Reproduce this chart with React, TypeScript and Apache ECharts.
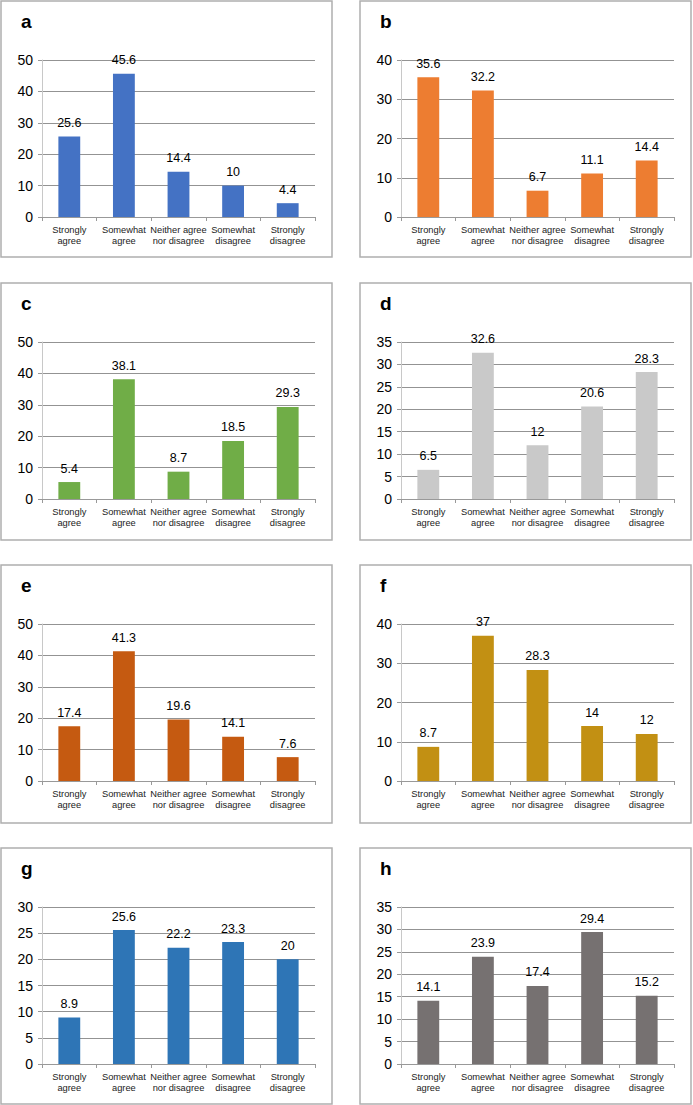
import React, { useEffect, useRef } from "react";
import * as echarts from "echarts";

const categories = [
  "Strongly\nagree",
  "Somewhat\nagree",
  "Neither agree\nnor disagree",
  "Somewhat\ndisagree",
  "Strongly\ndisagree",
];

const panelLetters = ["a", "b", "c", "d", "e", "f", "g", "h"];

const valuesA = [25.6, 45.6, 14.4, 10, 4.4];
const valuesB = [35.6, 32.2, 6.7, 11.1, 14.4];
const valuesC = [5.4, 38.1, 8.7, 18.5, 29.3];
const valuesD = [6.5, 32.6, 12, 20.6, 28.3];
const valuesE = [17.4, 41.3, 19.6, 14.1, 7.6];
const valuesF = [8.7, 37, 28.3, 14, 12];
const valuesG = [8.9, 25.6, 22.2, 23.3, 20];
const valuesH = [14.1, 23.9, 17.4, 29.4, 15.2];

const allValues = [valuesA, valuesB, valuesC, valuesD, valuesE, valuesF, valuesG, valuesH];

const axisMax = [50, 40, 50, 35, 50, 40, 30, 35];
const axisInterval = [10, 10, 10, 5, 10, 10, 5, 5];

const colors = ["#4472C4", "#ED7D31", "#70AD47", "#C9C9C9", "#C55A11", "#C29013", "#2E75B6", "#767171"];

const colLeft = [1, 360];
const colRight = [332, 691];
const rowTop = [1, 283, 565, 848];
const rowBottom = [257, 540, 823, 1104];

const FONT = "'Liberation Sans', Arial, Helvetica, sans-serif";

export default function App() {
  const ref = useRef<HTMLDivElement>(null);
  useEffect(() => {
    if (!ref.current) return;
    const chart = echarts.init(ref.current, undefined, { renderer: "svg" });
    const grids: any[] = [];
    const xAxes: any[] = [];
    const yAxes: any[] = [];
    const series: any[] = [];
    const graphics: any[] = [];
    allValues.forEach((vals, i) => {
      const col = i % 2;
      const row = Math.floor(i / 2);
      const bl = colLeft[col];
      const br = colRight[col];
      const bt = rowTop[row];
      const bb = rowBottom[row];
      graphics.push({
        type: "rect",
        shape: { x: bl, y: bt, width: br - bl, height: bb - bt },
        style: { fill: "none", stroke: "#AFAFAF", lineWidth: 1.5 },
        silent: true,
      });
      graphics.push({
        type: "text",
        x: bl + 20,
        y: bt + 20,
        style: {
          text: panelLetters[i],
          font: `bold 19px ${FONT}`,
          fill: "#000",
          verticalAlign: "middle",
        },
      });
      grids.push({
        left: bl + 41,
        width: br - 17 - (bl + 41),
        top: bt + 59,
        height: 157,
      });
      xAxes.push({
        type: "category",
        gridIndex: i,
        data: categories,
        axisLine: { show: true, lineStyle: { color: "#999", width: 1 } },
        axisTick: { show: true, length: 4, lineStyle: { color: "#999" } },
        axisLabel: {
          interval: 0,
          fontSize: 9.3,
          lineHeight: 11,
          color: "#222",
          fontFamily: FONT,
          margin: 7,
        },
        splitLine: { show: false },
      });
      yAxes.push({
        type: "value",
        gridIndex: i,
        min: 0,
        max: axisMax[i],
        interval: axisInterval[i],
        axisLine: { show: true, lineStyle: { color: "#C8C8C8", width: 1 } },
        axisTick: { show: true, length: 4, lineStyle: { color: "#999" } },
        axisLabel: { fontSize: 14, color: "#000", fontFamily: FONT, margin: 9 },
        splitLine: { show: true, lineStyle: { color: "#939393", width: 1 } },
      });
      series.push({
        type: "bar",
        xAxisIndex: i,
        yAxisIndex: i,
        data: vals,
        barWidth: "40%",
        itemStyle: { color: colors[i] },
        label: {
          show: true,
          position: "top",
          distance: 7,
          fontSize: 12.5,
          color: "#000",
          fontFamily: FONT,
        },
      });
    });
    chart.setOption({
      animation: false,
      backgroundColor: "#fff",
      grid: grids,
      xAxis: xAxes,
      yAxis: yAxes,
      series,
      graphic: graphics,
    });
    return () => chart.dispose();
  }, []);
  return (
    <div
      ref={ref}
      style={{ position: "absolute", left: 0, top: 0, width: 693, height: 1105 }}
    />
  );
}
